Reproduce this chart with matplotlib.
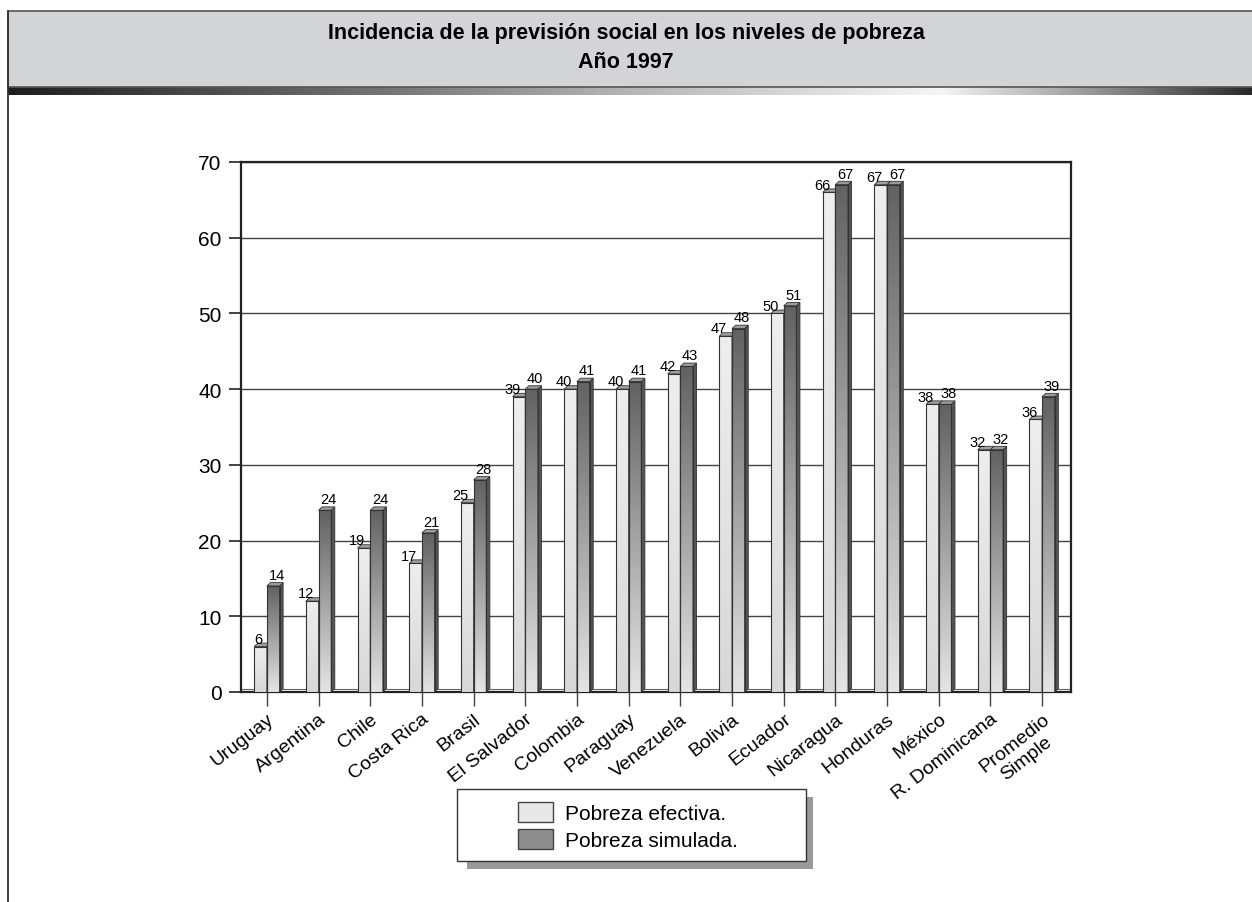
import numpy as np
import matplotlib.pyplot as plt
from matplotlib.patches import Rectangle, Polygon, Patch
from matplotlib.colors import LinearSegmentedColormap

plt.rcParams['font.family'] = ['Liberation Sans Narrow', 'Liberation Sans', 'DejaVu Sans']

paises = ["Uruguay", "Argentina", "Chile", "Costa Rica", "Brasil", "El Salvador",
          "Colombia", "Paraguay", "Venezuela", "Bolivia", "Ecuador", "Nicaragua",
          "Honduras", "México", "R. Dominicana", "Promedio\nSimple"]
efectiva = [6, 12, 19, 17, 25, 39, 40, 40, 42, 47, 50, 66, 67, 38, 32, 36]
simulada = [14, 24, 24, 21, 28, 40, 41, 41, 43, 48, 51, 67, 67, 38, 32, 39]
series = ["Pobreza efectiva.", "Pobreza simulada."]

W, H = 1252, 903
fig = plt.figure(figsize=(W / 100, H / 100), dpi=100)

# header band
fig.patches.append(Rectangle((8 / W, 1 - 88 / H), 1, 76 / H, transform=fig.transFigure,
                             facecolor='#d3d4d6', edgecolor='#555555', lw=1.2, zorder=0))
fig.text(0.5, 1 - 34 / H, "Incidencia de la previsión social en los niveles de pobreza",
         ha='center', va='center', fontsize=15.5, fontweight='bold')
fig.text(0.5, 1 - 62 / H, "Año 1997", ha='center', va='center', fontsize=15.5, fontweight='bold')
# gradient strip under header
gax = fig.add_axes([8 / W, 1 - 96 / H, 1 - 8 / W, 9 / H])
gcm = LinearSegmentedColormap.from_list('g', [(0, '#1e1e1e'), (0.32, '#7a7a7a'), (0.48, '#b0b0b0'),
                                              (0.75, '#f6f6f6'), (0.87, '#9a9a9a'), (1, '#2a2a2a')])
gax.imshow(np.linspace(0, 1, 500)[None, :], aspect='auto', cmap=gcm)
gax.axis('off')
# left page border
fig.lines.append(plt.Line2D([8 / W, 8 / W], [0, 1 - 12 / H], transform=fig.transFigure,
                            color='#333333', lw=1.3))

ax = fig.add_axes([241 / W, 1 - 693 / H, (1071 - 241) / W, (693 - 163) / H])
x = np.arange(len(paises))
bw = 0.245
dx, dy = 0.07, 0.45

cm_light = LinearSegmentedColormap.from_list('l', ['#eeeeee', '#d8d8d8'])
cm_dark = LinearSegmentedColormap.from_list('d', ['#626262', '#e4e4e4'])
grad = np.linspace(0, 1, 100)[:, None]

for k, (vals, off, cmap, side, top) in enumerate([(efectiva, -bw, cm_light, '#b8b8b8', '#a0a0a0'),
                                                  (simulada, 0, cm_dark, '#555555', '#9a9a9a')]):
    bars = ax.bar(x + off, vals, width=bw, align='edge', facecolor='none',
                  edgecolor='#333333', lw=0.8, zorder=4)
    for b in bars:
        x0, w, h = b.get_x(), b.get_width(), b.get_height()
        ax.imshow(grad, extent=[x0, x0 + w, 0, h], aspect='auto', cmap=cmap,
                  zorder=3, origin='upper')
        ax.add_patch(Polygon([(x0 + w, 0), (x0 + w + dx, dy), (x0 + w + dx, h + dy), (x0 + w, h)],
                             closed=True, facecolor=side, edgecolor='#333333', lw=0.6, zorder=3))
        ax.add_patch(Polygon([(x0, h), (x0 + dx, h + dy), (x0 + w + dx, h + dy), (x0 + w, h)],
                             closed=True, facecolor=top, edgecolor='#333333', lw=0.6, zorder=3))
        if k == 0:
            ax.text(x0 + w * 0.62, h + 0.1, str(int(h)), ha='right', va='bottom',
                    fontsize=10.5, zorder=5)
        else:
            ax.text(x0 + w / 2 + dx, h + dy + 0.1, str(int(h)), ha='center', va='bottom',
                    fontsize=10.5, zorder=5)

ax.set_xlim(-0.5, 15.56)
ax.set_ylim(0, 70)
ax.set_yticks(range(0, 71, 10))
ax.set_xticks(x)
ax.set_xticklabels(paises, rotation=38, ha='right', rotation_mode='anchor',
                   fontsize=14, multialignment='center')
ax.tick_params(axis='y', labelsize=15, length=9, width=1.2, color='#222222', pad=5)
ax.tick_params(axis='x', length=10, width=1, color='#444444', pad=3)
ax.yaxis.grid(True, color='#444444', lw=1)
ax.set_axisbelow(True)
for s in ax.spines.values():
    s.set_color('#222222')
    s.set_linewidth(1.6)
# floor edge
ax.plot([-0.5, 15.56], [0.35, 0.35], color='#666666', lw=0.8, zorder=2)

# legend box with shadow
fig.patches.append(Rectangle((467 / W, 1 - 870 / H), 346 / W, 72 / H, transform=fig.transFigure,
                             facecolor='#9a9a9c', edgecolor='none', zorder=1))
fig.patches.append(Rectangle((457 / W, 1 - 862 / H), 349 / W, 72 / H, transform=fig.transFigure,
                             facecolor='white', edgecolor='#333333', lw=1, zorder=1))
handles = [Patch(facecolor='#e8e8e8', edgecolor='#444444', label=series[0]),
           Patch(facecolor='#8e8e8e', edgecolor='#444444', label=series[1])]
fig.legend(handles=handles, loc='upper left', bbox_to_anchor=(518 / W, 1 - 803 / H),
           fontsize=15, frameon=False, borderpad=0, borderaxespad=0,
           handlelength=1.7, handleheight=1.1, handletextpad=0.55, labelspacing=0.3)

fig.savefig('out.png', dpi=100)
